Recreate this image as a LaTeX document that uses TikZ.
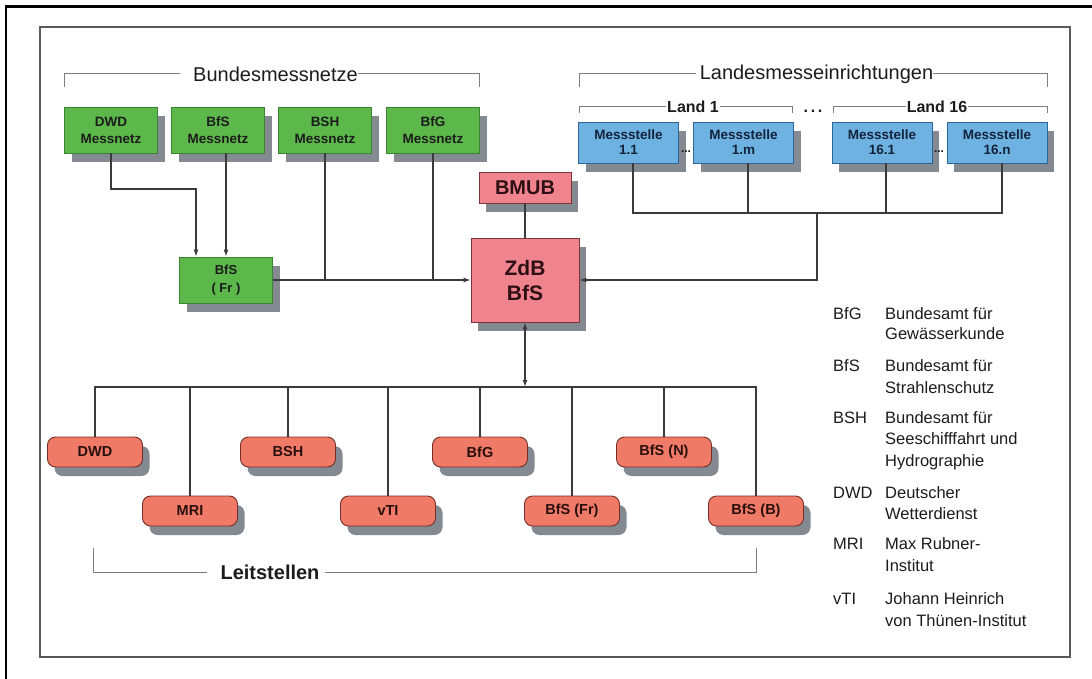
\documentclass[tikz,border=0pt]{standalone}
\usepackage{fontspec}
\setmainfont{Liberation Sans}
\usetikzlibrary{arrows.meta,shadows}
\definecolor{greenF}{RGB}{92,184,74}
\definecolor{greenD}{RGB}{60,130,50}
\definecolor{blueF}{RGB}{110,178,226}
\definecolor{blueD}{RGB}{46,100,150}
\definecolor{pinkF}{RGB}{240,132,142}
\definecolor{pinkD}{RGB}{130,50,60}
\definecolor{salF}{RGB}{240,122,104}
\definecolor{salD}{RGB}{120,45,38}
\definecolor{shadowc}{RGB}{132,138,146}
\definecolor{lnc}{RGB}{58,58,58}
\definecolor{brkc}{RGB}{125,125,125}
\definecolor{txtD}{RGB}{28,28,28}
\begin{document}
\begin{tikzpicture}[x=1pt,y=-1pt,
  shad/.style={drop shadow={shadow xshift=7pt,shadow yshift=-9pt,fill=shadowc,opacity=1}},
  gbox/.style={shad,draw=greenD,fill=greenF,line width=0.8pt,minimum width=93pt,minimum height=46pt,inner sep=0pt,align=center,text=txtD,font=\fontsize{13.5}{17}\selectfont\bfseries},
  bbox/.style={shad,draw=blueD,fill=blueF,line width=0.8pt,minimum width=100pt,minimum height=41pt,inner sep=0pt,align=center,text={rgb,255:red,20;green,35;blue,60},font=\fontsize{13.5}{15}\selectfont\bfseries},
  pbox/.style={shad,draw=pinkD,fill=pinkF,line width=0.8pt,inner sep=0pt,align=center,text={rgb,255:red,45;green,15;blue,20},font=\fontsize{20}{25}\selectfont\bfseries},
  rbox/.style={shad,draw=salD,fill=salF,line width=0.9pt,rounded corners=8pt,minimum width=95pt,minimum height=30pt,inner sep=0pt,text={rgb,255:red,40;green,15;blue,12},font=\fontsize{14.5}{17}\selectfont\bfseries},
  ln/.style={draw=lnc,line width=1.3pt},
  arr/.style={ln,-{Latex[length=7pt,width=5pt]}},
  darr/.style={ln,{Latex[length=7pt,width=5pt]}-{Latex[length=7pt,width=5pt]}},
  brk/.style={draw=brkc,line width=1pt},
  ttl/.style={inner sep=0pt,text=txtD,font=\fontsize{20}{24}\selectfont},
  sttl/.style={inner sep=0pt,text=txtD,font=\fontsize{16}{19}\selectfont\bfseries},
  leg/.style={inner sep=0pt,anchor=base west,text=txtD,font=\fontsize{16.5}{19}\selectfont}
]
\useasboundingbox (0,0) rectangle (1092,679);
% frames
\draw[black,line width=2.5pt] (6,679) -- (6,6.5) -- (1092,6.5);
\draw[draw={rgb,255:red,90;green,90;blue,90},line width=1.5pt] (40,27) rectangle (1070,657);

% brackets and titles
\node[ttl] (tbund) at (275.5,74) {Bundesmessnetze};
\draw[brk] (64,87) |- ([xshift=-13pt]tbund.west);
\draw[brk] (tbund.east) -| (479,87);
\node[ttl] (tland) at (816.5,74) {Landesmesseinrichtungen};
\draw[brk] (579,87) |- ([xshift=-4pt]tland.west);
\draw[brk] (tland.east) -| (1047,87);
\node[sttl] (tl1) at (693,107) {Land 1};
\draw[brk] (579,113) |- ([xshift=-1pt]tl1.west);
\draw[brk] ([xshift=1pt]tl1.east) -| (792,113);
\node[sttl] (tl16) at (937,107) {Land 16};
\draw[brk] (833,113) |- ([xshift=-1pt]tl16.west);
\draw[brk] ([xshift=1pt]tl16.east) -| (1047,113);
\node[sttl] (dots) at (813,111) {.\,.\,.};
\node[ttl,font=\fontsize{20}{24}\selectfont\bfseries] (tleit) at (270,572) {Leitstellen};
\draw[brk] (93,548) |- ([xshift=-13pt]tleit.west);
\draw[brk] ([xshift=5pt]tleit.east) -| (756,548);

% green boxes
\node[gbox] (dwdm) at (111,130) {DWD\\Messnetz};
\node[gbox] (bfsm) at (218,130) {BfS\\Messnetz};
\node[gbox] (bshm) at (325,130) {BSH\\Messnetz};
\node[gbox] (bfgm) at (433,130) {BfG\\Messnetz};
\node[gbox,font=\fontsize{13}{18}\selectfont\bfseries] (bfsfr) at (226,280) {BfS\\( Fr )};

% blue boxes
\node[bbox] (m11) at (628.5,142.5) {Messstelle\\1.1};
\node[bbox] (m1m) at (743.5,142.5) {Messstelle\\1.m};
\node[bbox] (m161) at (882,142.5) {Messstelle\\16.1};
\node[bbox] (m16n) at (997,142.5) {Messstelle\\16.n};
\node[sttl,font=\fontsize{12}{14}\selectfont\bfseries] (d1) at (686,152) {...};
\node[sttl,font=\fontsize{12}{14}\selectfont\bfseries] (d2) at (939,152) {...};

% pink boxes
\node[pbox,minimum width=92pt,minimum height=31pt] (bmub) at (525,187.5) {BMUB};
\node[pbox,minimum width=108pt,minimum height=84pt,font=\fontsize{21}{25}\selectfont\bfseries] (zdb) at (525,280) {ZdB\\BfS};

% rounded boxes
\node[rbox] (ldwd) at (95,452) {DWD};
\node[rbox] (lbsh) at (288,452) {BSH};
\node[rbox] (lbfg) at (480,452) {BfG};
\node[rbox] (lbfsn) at (664,452) {BfS (N)};
\node[rbox] (lmri) at (190,511) {MRI};
\node[rbox] (lvti) at (388,511) {vTI};
\node[rbox] (lbfsfr) at (572,511) {BfS (Fr)};
\node[rbox] (lbfsb) at (756,511) {BfS (B)};

% connectors top-left
\coordinate (kdwd) at (111,189);
\draw[arr] (dwdm.south) -- (kdwd) -| ([xshift=-30pt]bfsfr.north);
\draw[arr] (bfsm.south -| bfsfr.north) -- (bfsfr.north);
\draw[ln] (bshm.south) -- (bshm.south |- bfsfr.east);
\draw[ln] (bfgm.south) -- (bfgm.south |- bfsfr.east);
\draw[arr] (bfsfr.east) -- (zdb.west);
\draw[ln] (bmub.south) -- (zdb.north);

% connectors top-right
\coordinate (jb) at (817,213);
\coordinate (p1) at ([xshift=4.5pt]m11.south);
\coordinate (p2) at ([xshift=4.5pt]m1m.south);
\coordinate (p3) at ([xshift=4pt]m161.south);
\coordinate (p4) at ([xshift=5pt]m16n.south);
\draw[ln] (p1) |- (p4 |- jb) -- (p4);
\draw[ln] (p2) -- (p2 |- jb);
\draw[ln] (p3) -- (p3 |- jb);
\draw[arr] (jb) |- (zdb.east);

% connectors bottom
\coordinate (bus) at (525,387);
\draw[darr] (zdb.south) -- (bus);
\draw[ln] (ldwd.north) |- (lbfsb.north |- bus) -- (lbfsb.north);
\foreach \n in {lmri,lbsh,lvti,lbfg,lbfsfr,lbfsn}
  \draw[ln] (\n.north) -- (\n.north |- bus);

% legend
\node[leg] (a1) at (833,319) {BfG};
\node[leg] (b1) at (885,319) {Bundesamt für};
\node[leg] (c1) at (885,339) {Gewässerkunde};
\node[leg] (a2) at (833,371) {BfS};
\node[leg] (b2) at (885,371) {Bundesamt für};
\node[leg] (c2) at (885,393) {Strahlenschutz};
\node[leg] (a3) at (833,423) {BSH};
\node[leg] (b3) at (885,423) {Bundesamt für};
\node[leg] (c3) at (885,444) {Seeschifffahrt und};
\node[leg] (e3) at (885,466) {Hydrographie};
\node[leg] (a4) at (833,498) {DWD};
\node[leg] (b4) at (885,498) {Deutscher};
\node[leg] (c4) at (885,519) {Wetterdienst};
\node[leg] (a5) at (833,549) {MRI};
\node[leg] (b5) at (885,549) {Max Rubner-};
\node[leg] (c5) at (885,571) {Institut};
\node[leg] (a6) at (833,604) {vTI};
\node[leg] (b6) at (885,604) {Johann Heinrich};
\node[leg] (c6) at (885,626) {von Thünen-Institut};
\end{tikzpicture}
\end{document}
